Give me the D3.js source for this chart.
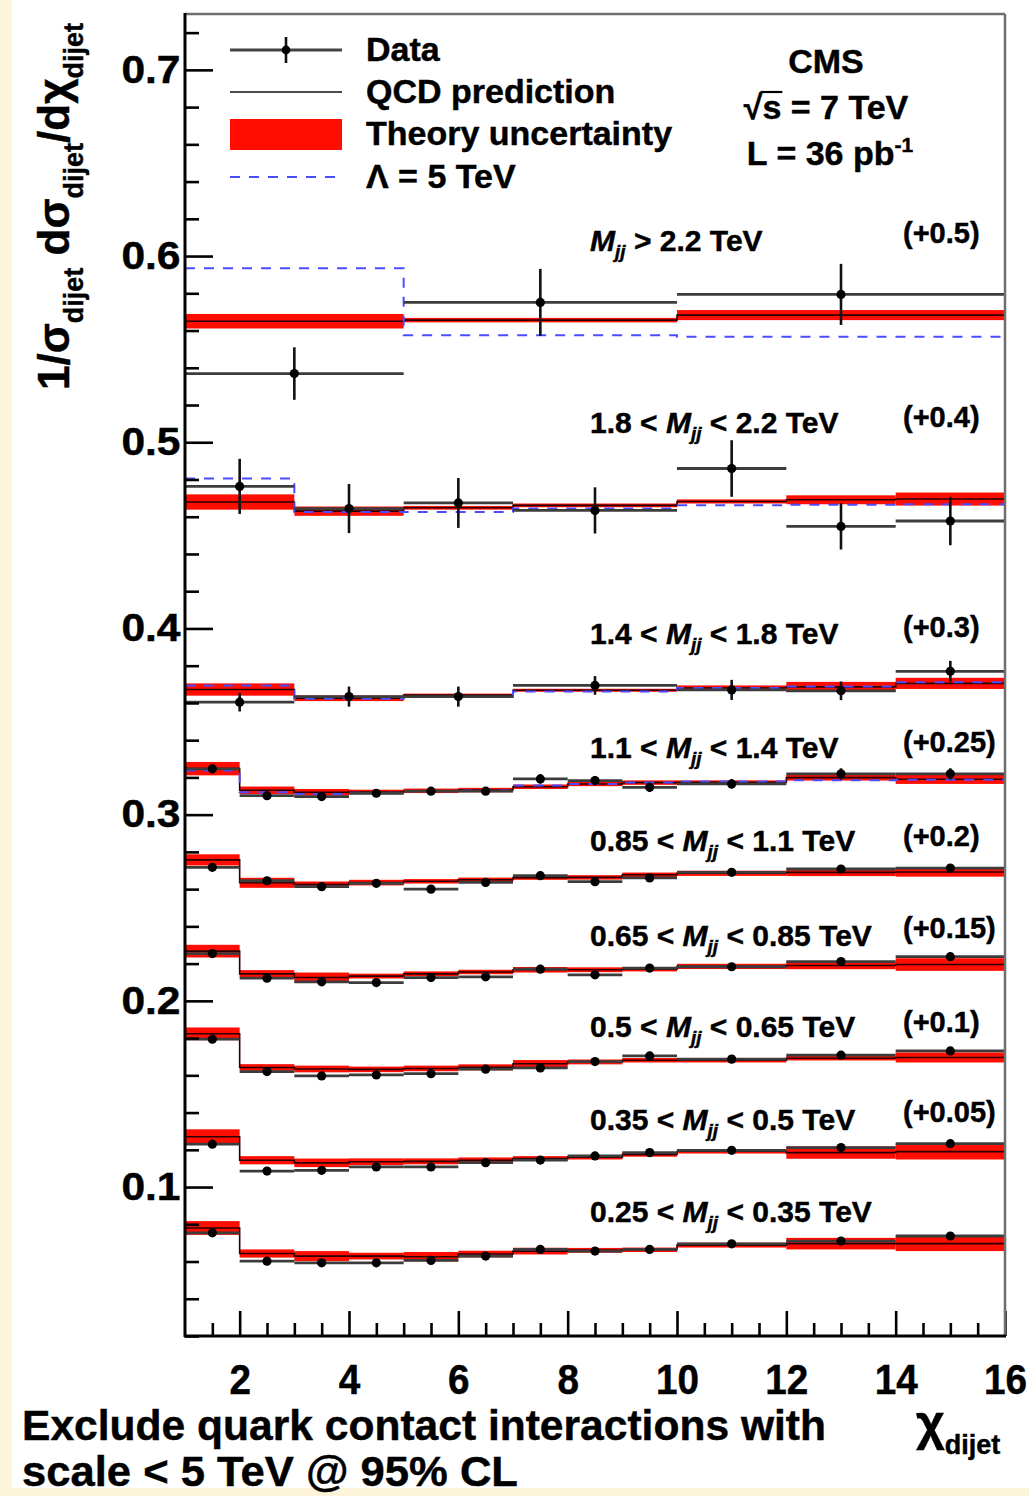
<!DOCTYPE html>
<html>
<head>
<meta charset="utf-8">
<script src="https://cdn.jsdelivr.net/npm/d3@7"></script>
<style>
  html, body { margin: 0; padding: 0; background: #fdf5d9; }
  svg { display: block; }
  text { font-family: "Liberation Sans", Arial, Helvetica, sans-serif; font-weight: bold; fill: #000;
         stroke: #000; stroke-width: 0.45px; }
</style>
</head>
<body>
<svg id="chart" width="1029" height="1496"></svg>
<script>
// chi_dijet bin edges used by the different dijet-mass ranges
const edgesFine = [1, 2, 3, 4, 5, 6, 7, 8, 9, 10, 12, 14, 16];
const edgesMedium = [1, 3, 5, 7, 10, 12, 14, 16];
const edgesCoarse = [1, 5, 10, 16];

// dijet-mass ranges (TeV); a null upper edge means open-ended
const massLow = [2.2, 1.8, 1.4, 1.1, 0.85, 0.65, 0.5, 0.35, 0.25];
const massHigh = [null, 2.2, 1.8, 1.4, 1.1, 0.85, 0.65, 0.5, 0.35];
// vertical offsets added to each mass range for display
const massOffsets = [0.5, 0.4, 0.3, 0.25, 0.2, 0.15, 0.1, 0.05, 0];

// normalized chi_dijet distributions, one row per mass range
const dataValues = [
  [0.0369, 0.0751, 0.0794],
  [0.0763, 0.0644, 0.0674, 0.0634, 0.0859, 0.0548, 0.0577],
  [0.0604, 0.0634, 0.0634, 0.0694, 0.0670, 0.0665, 0.0770],
  [0.0746, 0.0602, 0.0597, 0.0615, 0.0626, 0.0626, 0.0692, 0.0683, 0.0647, 0.0665, 0.0719, 0.0719],
  [0.0717, 0.0645, 0.0613, 0.0631, 0.0600, 0.0636, 0.0672, 0.0640, 0.0660, 0.0690, 0.0708, 0.0713],
  [0.0754, 0.0622, 0.0602, 0.0598, 0.0625, 0.0629, 0.0670, 0.0640, 0.0676, 0.0683, 0.0711, 0.0737],
  [0.0794, 0.0620, 0.0597, 0.0602, 0.0609, 0.0633, 0.0640, 0.0674, 0.0704, 0.0687, 0.0708, 0.0731],
  [0.0730, 0.0586, 0.0590, 0.0608, 0.0608, 0.0631, 0.0645, 0.0667, 0.0685, 0.0697, 0.0712, 0.0733],
  [0.0754, 0.0602, 0.0593, 0.0593, 0.0606, 0.0629, 0.0665, 0.0656, 0.0665, 0.0695, 0.0710, 0.0737]
];

const dataErrors = [
  [0.0141, 0.0180, 0.0164],
  [0.0148, 0.0132, 0.0134, 0.0124, 0.0152, 0.0124, 0.0130],
  [0.0050, 0.0054, 0.0054, 0.0050, 0.0054, 0.0050, 0.0056],
  [0.0025, 0.0020, 0.0020, 0.0020, 0.0020, 0.0020, 0.0025, 0.0025, 0.0025, 0.0025, 0.0030, 0.0030],
  [0.0014, 0.0012, 0.0012, 0.0012, 0.0012, 0.0012, 0.0013, 0.0013, 0.0013, 0.0014, 0.0016, 0.0018],
  [0.0013, 0.0011, 0.0011, 0.0011, 0.0011, 0.0011, 0.0012, 0.0012, 0.0012, 0.0013, 0.0015, 0.0017],
  [0.0012, 0.0010, 0.0010, 0.0010, 0.0010, 0.0010, 0.0011, 0.0011, 0.0011, 0.0012, 0.0014, 0.0016],
  [0.0012, 0.0010, 0.0010, 0.0010, 0.0010, 0.0010, 0.0011, 0.0011, 0.0011, 0.0012, 0.0014, 0.0016],
  [0.0012, 0.0010, 0.0010, 0.0010, 0.0010, 0.0010, 0.0011, 0.0011, 0.0011, 0.0012, 0.0014, 0.0016]
];

// NLO QCD prediction and its half-width theory uncertainty
const qcdValues = [
  [0.0650, 0.0656, 0.0683],
  [0.0679, 0.0630, 0.0648, 0.0661, 0.0682, 0.0691, 0.0695],
  [0.0672, 0.0625, 0.0642, 0.0668, 0.0680, 0.0686, 0.0705],
  [0.0747, 0.0631, 0.0620, 0.0622, 0.0628, 0.0632, 0.0650, 0.0665, 0.0672, 0.0674, 0.0699, 0.0690],
  [0.0757, 0.0634, 0.0625, 0.0635, 0.0642, 0.0650, 0.0662, 0.0663, 0.0677, 0.0685, 0.0690, 0.0692],
  [0.0767, 0.0645, 0.0625, 0.0633, 0.0645, 0.0655, 0.0667, 0.0667, 0.0670, 0.0685, 0.0690, 0.0695],
  [0.0823, 0.0642, 0.0634, 0.0632, 0.0637, 0.0643, 0.0662, 0.0672, 0.0681, 0.0681, 0.0692, 0.0696],
  [0.0770, 0.0644, 0.0630, 0.0636, 0.0638, 0.0643, 0.0653, 0.0660, 0.0675, 0.0692, 0.0685, 0.0690],
  [0.0780, 0.0643, 0.0629, 0.0629, 0.0626, 0.0640, 0.0656, 0.0660, 0.0663, 0.0688, 0.0696, 0.0696]
];

const qcdUncertainty = [
  [0.0039, 0.0012, 0.0027],
  [0.0041, 0.0025, 0.0010, 0.0010, 0.0011, 0.0024, 0.0035],
  [0.0033, 0.0015, 0.0008, 0.0008, 0.0014, 0.0027, 0.0030],
  [0.0036, 0.0020, 0.0018, 0.0012, 0.0012, 0.0012, 0.0012, 0.0012, 0.0012, 0.0010, 0.0016, 0.0025],
  [0.0030, 0.0027, 0.0016, 0.0015, 0.0012, 0.0012, 0.0012, 0.0012, 0.0012, 0.0014, 0.0020, 0.0025],
  [0.0034, 0.0020, 0.0027, 0.0013, 0.0013, 0.0012, 0.0015, 0.0013, 0.0012, 0.0014, 0.0020, 0.0034],
  [0.0034, 0.0018, 0.0018, 0.0015, 0.0015, 0.0016, 0.0020, 0.0013, 0.0012, 0.0012, 0.0012, 0.0027],
  [0.0040, 0.0022, 0.0023, 0.0018, 0.0016, 0.0016, 0.0013, 0.0012, 0.0012, 0.0012, 0.0033, 0.0042],
  [0.0037, 0.0022, 0.0027, 0.0018, 0.0025, 0.0018, 0.0018, 0.0013, 0.0012, 0.0013, 0.0031, 0.0040]
];

// QCD + contact interaction with Lambda = 5 TeV (highest four mass ranges)
const contactValues = [
  [0.0934, 0.0575, 0.0566],
  [0.0805, 0.0626, 0.0626, 0.0644, 0.0661, 0.0665, 0.0667],
  [0.0694, 0.0623, 0.0632, 0.0662, 0.0680, 0.0688, 0.0711],
  [0.0737, 0.0620, 0.0611, 0.0618, 0.0625, 0.0630, 0.0656, 0.0665, 0.0672, 0.0678, 0.0685, 0.0688]
];

const massBinning = [edgesCoarse, edgesMedium, edgesMedium,
  edgesFine, edgesFine, edgesFine, edgesFine, edgesFine, edgesFine];

const xTickValues = [2, 4, 6, 8, 10, 12, 14, 16];
const yTickValues = [0.1, 0.2, 0.3, 0.4, 0.5, 0.6, 0.7];

const legendLabels = ["Data", "QCD prediction", "Theory uncertainty", "\u039b = 5 TeV"];

// ---------------------------------------------------------------------------
const W = 1029, H = 1496;
const plotL = 185, plotR = 1005, plotT = 14, plotB = 1336;
const svg = d3.select("#chart");

const x = d3.scaleLinear().domain([1, 16]).range([plotL, plotR]);
const y = d3.scaleLinear().domain([0.02, 0.73]).range([plotB, plotT]);

// page panel
svg.append("rect").attr("x", 0).attr("y", 0).attr("width", W).attr("height", H).attr("fill", "#fdf5d9");
svg.append("rect").attr("x", 12).attr("y", 0).attr("width", W - 12).attr("height", 1488).attr("fill", "#ffffff");

const plot = svg.append("g");

// per-range helpers
function bins(k) {
  const e = massBinning[k];
  return d3.range(e.length - 1).map(i => ({ lo: e[i], hi: e[i + 1], mid: (e[i] + e[i + 1]) / 2 }));
}
function stepPoints(k, vals) {
  const e = massBinning[k], off = massOffsets[k];
  const pts = vals.map((v, i) => [e[i], v + off]);
  pts.push([e[e.length - 1], vals[vals.length - 1] + off]);
  return pts;
}
const stepLine = d3.line().x(d => x(d[0])).y(d => y(d[1])).curve(d3.curveStepAfter);

// theory uncertainty bands
massOffsets.forEach((off, k) => {
  plot.append("g").selectAll("rect").data(bins(k)).join("rect")
    .attr("x", d => x(d.lo))
    .attr("width", d => x(d.hi) - x(d.lo))
    .attr("y", (d, i) => y(qcdValues[k][i] + qcdUncertainty[k][i] + off))
    .attr("height", (d, i) => y(qcdValues[k][i] - qcdUncertainty[k][i] + off) - y(qcdValues[k][i] + qcdUncertainty[k][i] + off))
    .attr("fill", "#ff0d00");
});

// QCD central prediction
massOffsets.forEach((off, k) => {
  plot.append("path").attr("d", stepLine(stepPoints(k, qcdValues[k])))
    .attr("fill", "none").attr("stroke", "#2a0000").attr("stroke-width", 1.6);
});

// contact-interaction curves
contactValues.forEach((vals, k) => {
  plot.append("path").attr("d", stepLine(stepPoints(k, vals)))
    .attr("fill", "none").attr("stroke", "#4b4bff").attr("stroke-width", 2)
    .attr("stroke-dasharray", "10,9");
});

// data points
massOffsets.forEach((off, k) => {
  const g = plot.append("g");
  const b = bins(k);
  g.selectAll("line.h").data(b).join("line").attr("class", "h")
    .attr("x1", d => x(d.lo)).attr("x2", d => x(d.hi))
    .attr("y1", (d, i) => y(dataValues[k][i] + off)).attr("y2", (d, i) => y(dataValues[k][i] + off))
    .attr("stroke", "#3c3c3c").attr("stroke-width", 2.8);
  g.selectAll("line.v").data(b).join("line").attr("class", "v")
    .attr("x1", d => x(d.mid)).attr("x2", d => x(d.mid))
    .attr("y1", (d, i) => y(dataValues[k][i] - dataErrors[k][i] + off))
    .attr("y2", (d, i) => y(dataValues[k][i] + dataErrors[k][i] + off))
    .attr("stroke", "#111").attr("stroke-width", 2.6);
  g.selectAll("circle").data(b).join("circle")
    .attr("cx", d => x(d.mid)).attr("cy", (d, i) => y(dataValues[k][i] + off))
    .attr("r", 4.6).attr("fill", "#000");
});

// axes with inward ticks
function styleAxis(g) {
  g.select(".domain").remove();
  g.selectAll(".tick line").attr("stroke", "#000").attr("stroke-width", 2.6);
}
const xMinor = d3.range(1.5, 16, 0.5).filter(v => v % 2 !== 0);
svg.append("g").attr("transform", `translate(0,${plotB})`)
  .call(d3.axisBottom(x).tickValues(xMinor).tickSize(-13).tickFormat(""))
  .call(styleAxis);
svg.append("g").attr("transform", `translate(0,${plotB})`)
  .call(d3.axisBottom(x).tickValues(xTickValues).tickSize(-25).tickPadding(27).tickFormat(d3.format("d")))
  .call(styleAxis)
  .call(g => g.selectAll(".tick text")
    .style("font-size", "43px").style("font-family", "Liberation Sans, Arial, sans-serif")
    .attr("fill", "#000").attr("transform", "scale(0.9,1)"));

const yMinor = d3.range(0.02, 0.7301, 0.02).filter(v => Math.abs(v * 10 - Math.round(v * 10)) > 1e-6);
svg.append("g").attr("transform", `translate(${plotL},0)`)
  .call(d3.axisLeft(y).tickValues(yMinor).tickSize(-14).tickFormat(""))
  .call(styleAxis);
svg.append("g").attr("transform", `translate(${plotL},0)`)
  .call(d3.axisLeft(y).tickValues(yTickValues).tickSize(-28).tickPadding(4).tickFormat(d3.format(".1f")))
  .call(styleAxis)
  .call(g => g.selectAll(".tick text")
    .style("font-size", "38px").style("font-family", "Liberation Sans, Arial, sans-serif")
    .attr("fill", "#000").attr("transform", "scale(1.12,1)"));

// frame
svg.append("line").attr("x1", plotL).attr("x2", plotR).attr("y1", plotT).attr("y2", plotT)
  .attr("stroke", "#6e6e6e").attr("stroke-width", 2.5);
svg.append("line").attr("x1", plotR).attr("x2", plotR).attr("y1", plotT).attr("y2", plotB)
  .attr("stroke", "#6e6e6e").attr("stroke-width", 2.5);
svg.append("line").attr("x1", plotL).attr("x2", plotL).attr("y1", plotT - 1).attr("y2", plotB + 1)
  .attr("stroke", "#000").attr("stroke-width", 3);
svg.append("line").attr("x1", plotL - 1).attr("x2", plotR + 1).attr("y1", plotB).attr("y2", plotB)
  .attr("stroke", "#000").attr("stroke-width", 3);

// legend
const legend = svg.append("g");
const legRowY = [50, 92, 134, 177];
const symX0 = 230, symX1 = 342, textX = 366;
legend.append("line").attr("x1", symX0).attr("x2", symX1).attr("y1", legRowY[0]).attr("y2", legRowY[0])
  .attr("stroke", "#444").attr("stroke-width", 2.8);
legend.append("line").attr("x1", 286).attr("x2", 286).attr("y1", legRowY[0] - 13).attr("y2", legRowY[0] + 13)
  .attr("stroke", "#111").attr("stroke-width", 2.6);
legend.append("circle").attr("cx", 286).attr("cy", legRowY[0]).attr("r", 4.4).attr("fill", "#000");
legend.append("line").attr("x1", symX0).attr("x2", symX1).attr("y1", legRowY[1]).attr("y2", legRowY[1])
  .attr("stroke", "#111").attr("stroke-width", 1.6);
legend.append("rect").attr("x", symX0).attr("y", legRowY[2] - 15).attr("width", symX1 - symX0).attr("height", 31)
  .attr("fill", "#ff0d00");
legend.append("line").attr("x1", symX0).attr("x2", symX1).attr("y1", legRowY[3]).attr("y2", legRowY[3])
  .attr("stroke", "#4b4bff").attr("stroke-width", 2).attr("stroke-dasharray", "10,9");
legendLabels.forEach((t, i) => {
  legend.append("text").attr("x", textX).attr("y", legRowY[i] + 11).style("font-size", "34px").text(t);
});

// experiment block
const cms = svg.append("g").attr("text-anchor", "middle");
cms.append("text").attr("x", 826).attr("y", 73).style("font-size", "34px").text("CMS");
const rs = cms.append("text").attr("x", 826).attr("y", 119).style("font-size", "34px");
rs.append("tspan").text("\u221a");
rs.append("tspan").text("s");
rs.append("tspan").text(" = 7 TeV");
// radical bar over the "s"
{
  const sqrtBox = rs.node().getExtentOfChar(0);
  const sBox = rs.node().getExtentOfChar(1);
  svg.append("line")
    .attr("x1", sqrtBox.x + sqrtBox.width - 2).attr("x2", sBox.x + sBox.width + 1)
    .attr("y1", 119 - 27).attr("y2", 119 - 27)
    .attr("stroke", "#000").attr("stroke-width", 2.2);
}
const lumi = cms.append("text").attr("x", 830).attr("y", 165).style("font-size", "34px");
lumi.append("tspan").text("L = 36 pb");
lumi.append("tspan").attr("dy", -13).style("font-size", "21px").text("-1");

// mass-range labels and their offsets
const rangeLabelY = [251, 433, 644, 758, 851, 946, 1037, 1130, 1222];
const offsetLabelY = [243, 427, 637, 752, 846, 938, 1032, 1122];
const fmtMass = v => String(v);
massLow.forEach((lo, k) => {
  const t = svg.append("text").attr("x", 590).attr("y", rangeLabelY[k]).style("font-size", "30px");
  if (massHigh[k] === null) {
    t.append("tspan").style("font-style", "italic").text("M");
    t.append("tspan").attr("dy", 7).style("font-size", "19px").style("font-style", "italic").text("jj");
    t.append("tspan").attr("dy", -7).text(` > ${fmtMass(lo)} TeV`);
  } else {
    t.append("tspan").text(`${fmtMass(lo)} < `);
    t.append("tspan").style("font-style", "italic").text("M");
    t.append("tspan").attr("dy", 7).style("font-size", "19px").style("font-style", "italic").text("jj");
    t.append("tspan").attr("dy", -7).text(` < ${fmtMass(massHigh[k])} TeV`);
  }
  if (massOffsets[k] > 0) {
    svg.append("text").attr("x", 903).attr("y", offsetLabelY[k]).style("font-size", "29px")
      .text(`(+${massOffsets[k]})`);
  }
});

// axis titles
const yTitle = svg.append("text").attr("transform", "translate(69,390) rotate(-90)").style("font-size", "44px");
yTitle.append("tspan").text("1/\u03c3");
yTitle.append("tspan").attr("dy", 14).style("font-size", "27px").text("dijet");
yTitle.append("tspan").attr("dy", -14).text(" d\u03c3");
yTitle.append("tspan").attr("dy", 14).style("font-size", "27px").text("dijet");
yTitle.append("tspan").attr("dy", -14).text("/d\u03c7");
yTitle.append("tspan").attr("dy", 14).style("font-size", "27px").text("dijet");

const xTitle = svg.append("text").attr("x", 916).attr("y", 1440).style("font-size", "50px");
xTitle.append("tspan").text("\u03c7");
xTitle.append("tspan").attr("dy", 14).style("font-size", "27px").text("dijet");

// note below the plot
svg.append("text").attr("x", 22).attr("y", 1440).style("font-size", "43px")
  .attr("textLength", 804).attr("lengthAdjust", "spacingAndGlyphs")
  .text("Exclude quark contact interactions with");
svg.append("text").attr("x", 22).attr("y", 1486).style("font-size", "43px")
  .attr("textLength", 496).attr("lengthAdjust", "spacingAndGlyphs")
  .text("scale  < 5 TeV @ 95% CL");
</script>
</body>
</html>
